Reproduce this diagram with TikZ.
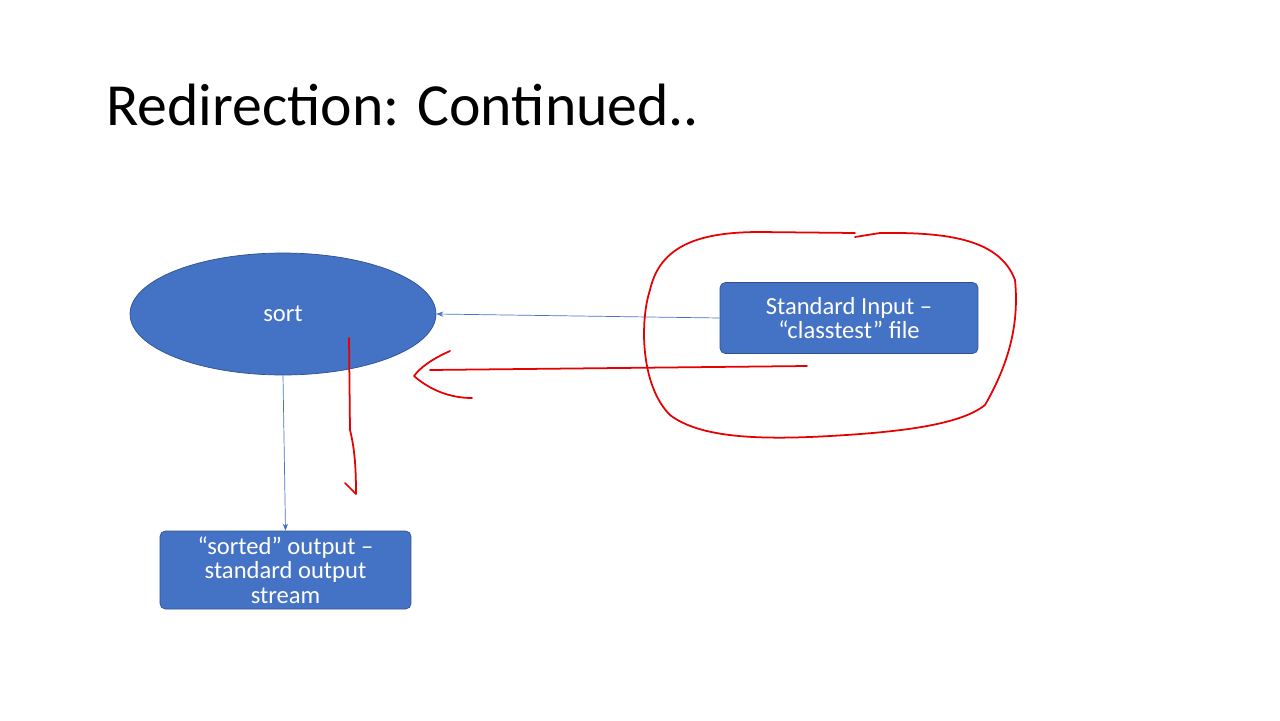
\documentclass[tikz,border=0pt]{standalone}
\usepackage{fontspec}
\setmainfont{Carlito}
\usetikzlibrary{shapes.geometric,arrows.meta,positioning}
\definecolor{boxblue}{RGB}{68,114,196}
\definecolor{edgeblue}{RGB}{47,82,143}
\definecolor{inkred}{RGB}{230,0,0}
\begin{document}
\begin{tikzpicture}[x=0.02cm, y=-0.02cm,
    box/.style ={rectangle, rounded corners = 3pt, fill = boxblue, draw = edgeblue,
                 text = white, align = center, font = \fontsize{14}{14}\selectfont, inner sep = 0pt},
    flow/.style ={draw = boxblue, -{Stealth[length = 4pt, width = 3pt]}},
    ink/.style ={draw = inkred, line width = 1pt, line cap = round, line join = round}
    ]
\useasboundingbox (0,0) rectangle (1280,720);

\node at (100,105) [anchor = west, font = \fontsize{34}{34}\selectfont]{Redirection: Continued..};

\node (sort) at (283,314) [ellipse, fill = boxblue, draw = edgeblue, text = white,
    minimum width = 6.12cm, minimum height = 2.44cm, font = \fontsize{14}{14}\selectfont]{sort};
\node (stdin) at (849,318) [box, minimum width = 5.16cm, minimum height = 1.42cm]
    {Standard Input --\\``classtest'' file};
\node (stdout) at (285.5,570) [box, minimum width = 5.02cm, minimum height = 1.56cm]
    {``sorted'' output --\\standard output\\stream};

\draw [flow] (stdin.west) -- (sort.east);
\draw [flow] (sort.south) -- (stdout.north);

% hand drawn marks
\draw [ink] (855,237) -- (880,233) .. controls (950,232) and (1000,240) .. (1015,280)
    .. controls (1020,330) and (1005,370) .. (985,405)
    .. controls (960,425) and (900,432) .. (830,436)
    .. controls (760,440) and (700,438) .. (670,415)
    .. controls (640,385) and (640,320) .. (650,290)
    .. controls (660,245) and (700,232) .. (760,232) -- (855,233);
\draw [ink] (807,366) -- (430,370);
\draw [ink] (450,351) .. controls (430,360) and (420,368) .. (414,376)
    .. controls (430,390) and (450,398) .. (472,398);
\draw [ink] (349,338) -- (350,430) .. controls (355,450) and (356,470) .. (356,494)
    -- (345,483);
\end{tikzpicture}
\end{document}
